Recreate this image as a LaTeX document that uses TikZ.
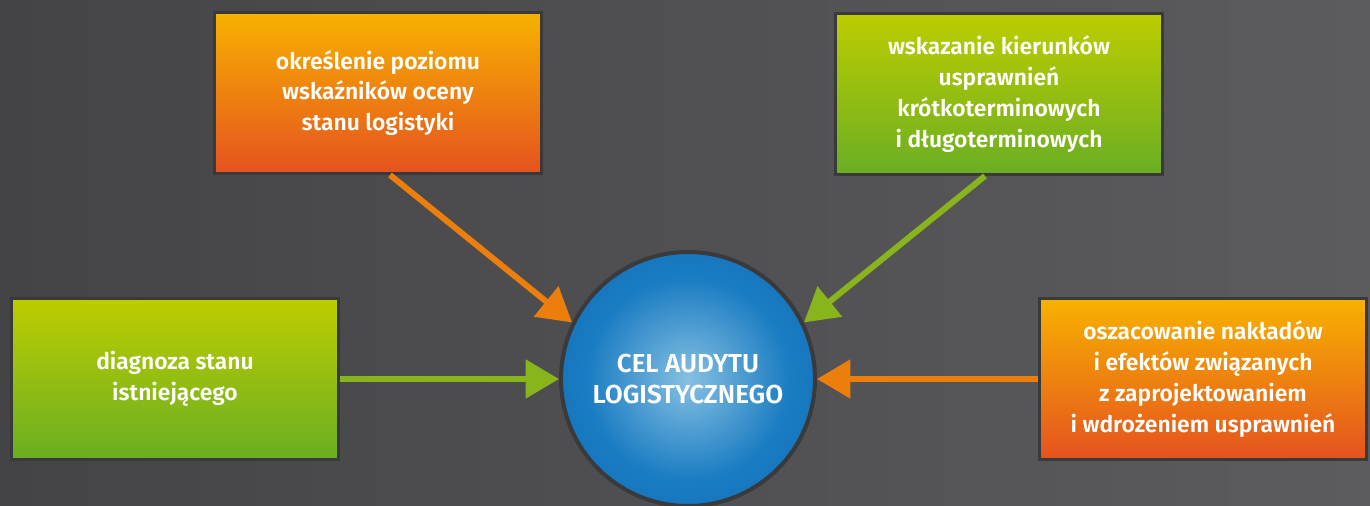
\documentclass[tikz,border=0pt]{standalone}
\usepackage{fontspec}
\setmainfont{Fira Sans}[BoldFont={Fira Sans SemiBold}]
\usetikzlibrary{arrows.meta}

\definecolor{bgleft}{HTML}{444447}
\definecolor{bgright}{HTML}{5C5C5F}
\definecolor{boxline}{HTML}{3A3A3C}
\definecolor{orngtop}{HTML}{F7B200}
\definecolor{orngbot}{HTML}{E5521F}
\definecolor{grntop}{HTML}{BDCD00}
\definecolor{grnbot}{HTML}{6AAE23}
\definecolor{orngarr}{HTML}{EC7E0C}
\definecolor{grnarr}{HTML}{88B41C}
\definecolor{cellight}{HTML}{86C0E2}
\definecolor{celmid}{HTML}{1A7CC2}
\definecolor{celdark}{HTML}{0660AC}
\pgfdeclareradialshading{celshade}{\pgfpoint{0bp}{0bp}}{color(0bp)=(cellight); color(20bp)=(celmid); color(50bp)=(celdark)}

\begin{document}
\begin{tikzpicture}[x=0.02cm,y=-0.02cm,
  box/.style={draw=boxline,line width=1.7pt,minimum width=6.56cm,minimum height=3.22cm,
    align=center,text=white,inner sep=0pt,font=\fontsize{13}{17.5}\selectfont\bfseries},
  orngbox/.style={box,top color=orngtop,bottom color=orngbot},
  grnbox/.style={box,top color=grntop,bottom color=grnbot},
  arr/.style={line width=3.4pt,-{Triangle[length=19pt,width=21.5pt]}}]
  \useasboundingbox (0,0) rectangle (1370,506);
  \shade[left color=bgleft,right color=bgright] (0,0) rectangle (1370,506);
  \node[circle,draw=boxline,line width=2.3pt,minimum size=5.08cm,shade,shading=celshade,
    text=white,align=center,font=\fontsize{14.8}{17.5}\selectfont\bfseries] (cel) at (688,379)
    {CEL AUDYTU\\LOGISTYCZNEGO};
  \node[orngbox] (tl) at (378,93) {określenie poziomu\\wskaźników oceny\\stanu logistyki};
  \node[grnbox] (tr) at (999,94) {wskazanie kierunków\\usprawnień\\krótkoterminowych\\i długoterminowych};
  \node[grnbox] (lb) at (175,379) {diagnoza stanu\\istniejącego};
  \node[orngbox] (rb) at (1203,379) {oszacowanie nakładów\\i efektów związanych\\z zaprojektowaniem\\i wdrożeniem usprawnień};
  \draw[arr,orngarr] ([xshift=0.24cm]tl.south) -- (cel.154);
  \draw[arr,grnarr] ([xshift=-0.28cm]tr.south) -- (cel.26);
  \draw[arr,grnarr] (lb.east) -- (cel.west);
  \draw[arr,orngarr] (rb.west) -- (cel.east);
\end{tikzpicture}
\end{document}
